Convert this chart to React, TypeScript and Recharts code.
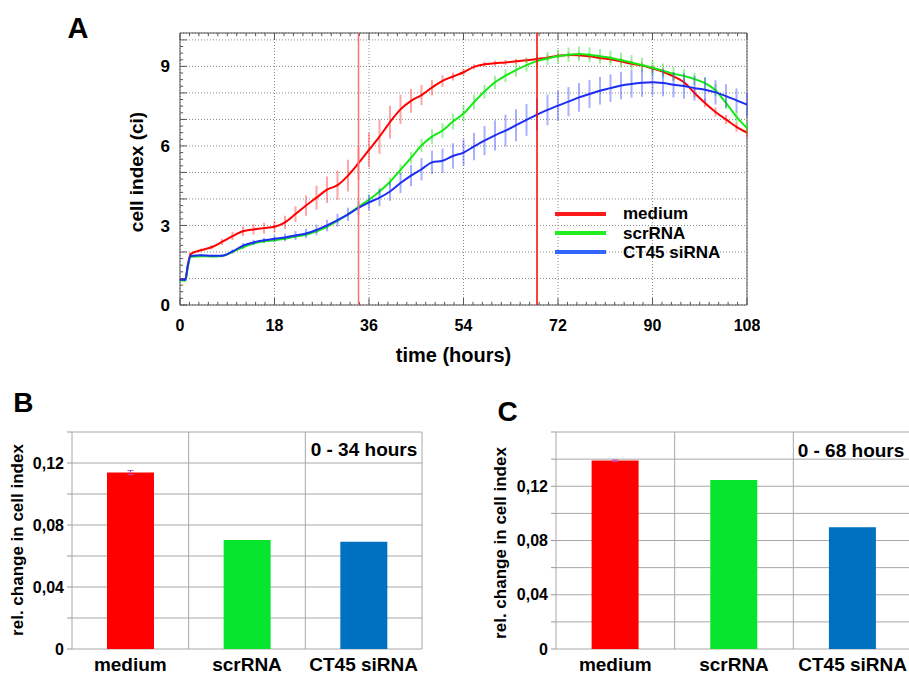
import React from 'react';
import {
  LineChart,
  Line,
  BarChart,
  Bar,
  Cell,
  XAxis,
  YAxis,
  CartesianGrid,
  ErrorBar,
  ReferenceLine,
  ReferenceArea,
} from 'recharts';

const FONT = '"Liberation Sans", Arial, Helvetica, sans-serif';

// ---- panel A: cell index over time ----
const hours = [
  0, 1, 1.5, 2, 4, 6, 8, 10, 12, 14, 16, 18, 20, 22, 24, 26, 28, 30, 32, 34,
  36, 38, 40, 42, 44, 46, 48, 50, 52, 54, 56, 58, 60, 62, 64, 66, 68, 70, 72,
  74, 76, 78, 80, 82, 84, 86, 88, 90, 92, 94, 96, 98, 100, 102, 104, 106, 108,
];
const medium = [
  0.95, 0.95, 1.5, 1.92, 2.07, 2.18, 2.38, 2.6, 2.78, 2.85, 2.9, 2.95, 3.12, 3.43, 3.75, 4.05, 4.35, 4.52, 4.88, 5.35,
  5.85, 6.35, 6.9, 7.38, 7.7, 7.92, 8.2, 8.45, 8.62, 8.78, 8.98, 9.08, 9.12, 9.15, 9.19, 9.23, 9.28, 9.33, 9.4,
  9.43, 9.42, 9.38, 9.32, 9.27, 9.19, 9.1, 9.03, 8.92, 8.8, 8.62, 8.4, 8.0, 7.62, 7.28, 7.0, 6.72, 6.5,
];
const mediumErr = [
  0.03, 0.03, 0.05, 0.05, 0.06, 0.08, 0.12, 0.15, 0.18, 0.2, 0.2, 0.22, 0.25, 0.3, 0.38, 0.45, 0.5, 0.55, 0.6, 0.62,
  0.65, 0.65, 0.62, 0.55, 0.45, 0.38, 0.3, 0.22, 0.15, 0.12, 0.1, 0.1, 0.1, 0.1, 0.1, 0.1, 0.1, 0.1, 0.1,
  0.1, 0.1, 0.1, 0.1, 0.12, 0.12, 0.12, 0.13, 0.13, 0.14, 0.15, 0.15, 0.16, 0.16, 0.17, 0.17, 0.18, 0.18,
];
const scrRNA = [
  0.92, 0.92, 1.45, 1.82, 1.84, 1.83, 1.85, 2.0, 2.18, 2.32, 2.4, 2.44, 2.5, 2.58, 2.65, 2.78, 2.95, 3.18, 3.42, 3.7,
  3.97, 4.28, 4.65, 5.1, 5.55, 6.02, 6.35, 6.58, 6.92, 7.22, 7.65, 8.05, 8.4, 8.65, 8.86, 9.05, 9.2, 9.3, 9.38,
  9.44, 9.47, 9.44, 9.38, 9.32, 9.24, 9.15, 9.05, 8.95, 8.84, 8.72, 8.64, 8.52, 8.37, 8.1, 7.62, 7.1, 6.68,
];
const scrRNAErr = [
  0.03, 0.03, 0.05, 0.05, 0.03, 0.03, 0.04, 0.05, 0.06, 0.06, 0.06, 0.06, 0.06, 0.06, 0.06, 0.06, 0.07, 0.08, 0.08, 0.1,
  0.12, 0.14, 0.16, 0.2, 0.22, 0.25, 0.28, 0.28, 0.3, 0.3, 0.28, 0.26, 0.25, 0.25, 0.25, 0.25, 0.25, 0.25, 0.26,
  0.27, 0.28, 0.28, 0.28, 0.28, 0.28, 0.28, 0.28, 0.28, 0.27, 0.26, 0.25, 0.24, 0.23, 0.22, 0.22, 0.2, 0.2,
];
const ct45 = [
  0.95, 0.95, 1.5, 1.85, 1.88, 1.86, 1.86, 2.02, 2.24, 2.36, 2.44, 2.5, 2.55, 2.62, 2.7, 2.83, 3.0, 3.2, 3.42, 3.66,
  3.87, 4.05, 4.28, 4.6, 4.88, 5.12, 5.38, 5.44, 5.62, 5.75, 5.98, 6.2, 6.4, 6.58, 6.78, 6.98, 7.18, 7.36, 7.52,
  7.67, 7.83, 7.96, 8.08, 8.18, 8.28, 8.34, 8.38, 8.4, 8.37, 8.31, 8.26, 8.18, 8.12, 8.02, 7.88, 7.72, 7.56,
];
const ct45Err = [
  0.04, 0.04, 0.05, 0.05, 0.04, 0.04, 0.05, 0.08, 0.1, 0.1, 0.1, 0.12, 0.15, 0.17, 0.18, 0.2, 0.22, 0.24, 0.25, 0.27,
  0.3, 0.32, 0.35, 0.38, 0.4, 0.42, 0.44, 0.46, 0.48, 0.5, 0.52, 0.55, 0.57, 0.6, 0.6, 0.6, 0.6, 0.58, 0.56,
  0.55, 0.54, 0.53, 0.52, 0.52, 0.52, 0.52, 0.52, 0.5, 0.5, 0.48, 0.48, 0.47, 0.46, 0.46, 0.45, 0.45, 0.45,
];
const timeTicks = [0, 18, 36, 54, 72, 90, 108];
const ciTicks = [0, 1, 2, 3, 4, 5, 6, 7, 8, 9, 10];
const windowEnds = [34, 68];
const Y_MAX = 10.26;

const seriesNames = ['medium', 'scrRNA', 'CT45 siRNA'];
const lineColors = ['#ff0000', '#12ea12', '#1e2ef0'];
const errColors = ['rgba(255,40,40,0.42)', 'rgba(30,220,30,0.42)', 'rgba(50,70,255,0.42)'];
const legendColors = ['#ff1a1a', '#22ee22', '#3366ff'];

const growthData = hours.map((h, i) => ({
  h,
  medium: medium[i],
  mediumErr: mediumErr[i],
  scrRNA: scrRNA[i],
  scrRNAErr: scrRNAErr[i],
  ct45: ct45[i],
  ct45Err: ct45Err[i],
}));

// axis decoration (ROOT-style inner ticks)
const minorX = Array.from({ length: 61 }, (_, i) => +(i * 1.8).toFixed(1));
const minorY = Array.from({ length: 41 }, (_, i) => i * 0.25);

// ---- panels B, C: relative change ----
const groups = ['medium', 'scrRNA', 'CT45 siRNA'];
const change34 = [0.1138, 0.0703, 0.0692];
const change34Err = [0.0013, null, null];
const change68 = [0.1389, 0.1247, 0.0898];
const change68Err = [0.0005, null, null];
const barColors = ['#ff0000', '#07e52e', '#0070c0'];
const ticks34 = [0, 0.02, 0.04, 0.06, 0.08, 0.1, 0.12, 0.14];
const ticks68 = [0, 0.02, 0.04, 0.06, 0.08, 0.1, 0.12, 0.14, 0.16];
const labelled = [0, 0.04, 0.08, 0.12];

const tickFont = { fill: '#000', fontSize: 16, fontWeight: 'bold', fontFamily: FONT };

const Txt = ({ x, y, size, rotate, children }: any) => (
  <div
    style={{
      position: 'absolute',
      left: x,
      top: y,
      transform: `translate(-50%, -50%)${rotate ? ' rotate(-90deg)' : ''}`,
      fontSize: size,
      fontWeight: 'bold',
      lineHeight: 1,
      whiteSpace: 'nowrap',
      fontFamily: FONT,
      color: '#000',
    }}
  >
    {children}
  </div>
);

const fmtComma = (v: number) => {
  const hit = labelled.find((l) => Math.abs(l - v) < 1e-6);
  if (hit === undefined) return '';
  return hit === 0 ? '0' : hit.toFixed(2).replace('.', ',');
};

const RelChange = ({ values, errs, ticks, width, marginLeft, marginRight }: any) => {
  const rows = groups.map((name, i) => ({ name, value: values[i], err: errs[i] }));
  const top = ticks[ticks.length - 1];
  return (
    <BarChart
      width={width}
      height={297}
      data={rows}
      margin={{ top: 52, right: marginRight, bottom: 0, left: marginLeft }}
      barCategoryGap="30%"
    >
      {/* grid lines sit on category borders, plus the frame */}
      <CartesianGrid
        stroke="#a8a8a8"
        verticalCoordinatesGenerator={({ offset }: any) =>
          groups.concat('').map((_, i) => offset.left + (offset.width * i) / groups.length)
        }
        horizontalCoordinatesGenerator={({ offset }: any) =>
          ticks.map((v: number) => offset.top + offset.height * (1 - v / top))
        }
      />
      <XAxis
        dataKey="name"
        tickLine={false}
        axisLine={false}
        tickSize={0}
        tickMargin={9}
        height={28}
        interval={0}
        tick={{ ...tickFont, fontSize: 19 }}
      />
      <YAxis
        domain={[0, top]}
        ticks={ticks}
        interval={0}
        tickFormatter={fmtComma}
        width={50}
        tickSize={5}
        tickMargin={3}
        tickLine={{ stroke: '#999' }}
        axisLine={false}
        tick={tickFont}
      />
      <Bar dataKey="value" isAnimationActive={false}>
        {rows.map((r, i) => (
          <Cell key={r.name} fill={barColors[i]} />
        ))}
        <ErrorBar dataKey="err" width={3} stroke="#b050c0" strokeWidth={1} isAnimationActive={false} />
      </Bar>
    </BarChart>
  );
};

export default function App() {
  const keys = ['medium', 'scrRNA', 'ct45'];
  return (
    <div
      style={{
        position: 'absolute',
        left: 0,
        top: 0,
        width: 909,
        height: 677,
        overflow: 'hidden',
        background: '#fff',
        fontFamily: FONT,
      }}
    >
      {/* Panel A */}
      <div style={{ position: 'absolute', left: 0, top: 0 }}>
        <LineChart width={760} height={370} data={growthData} margin={{ top: 33, right: 13, bottom: 35, left: 140 }}>
          <CartesianGrid stroke="#8c8c8c" strokeDasharray="1 2" />
          <XAxis
            dataKey="h"
            type="number"
            domain={[0, 108]}
            ticks={timeTicks}
            interval={0}
            tickLine={false}
            axisLine={false}
            tickSize={0}
            tickMargin={15}
            height={30}
            tick={tickFont}
          />
          <YAxis
            domain={[0, Y_MAX]}
            ticks={ciTicks}
            interval={0}
            allowDataOverflow
            tickFormatter={(v: number) => (v % 3 === 0 ? String(v) : '')}
            width={40}
            tickSize={0}
            tickMargin={10}
            tickLine={false}
            axisLine={false}
            tick={{ ...tickFont, fontSize: 17 }}
          />
          <ReferenceArea x1={0} x2={108} y1={0} y2={Y_MAX} fill="none" stroke="#555" strokeWidth={1} ifOverflow="visible" />
          {minorX.map((t, i) => (
            <ReferenceLine
              key={'xb' + i}
              segment={[{ x: t, y: 0 }, { x: t, y: i % 10 === 0 ? 0.26 : 0.12 }]}
              stroke="#555"
              ifOverflow="visible"
            />
          ))}
          {minorX.map((t, i) => (
            <ReferenceLine
              key={'xt' + i}
              segment={[{ x: t, y: Y_MAX }, { x: t, y: Y_MAX - (i % 10 === 0 ? 0.26 : 0.12) }]}
              stroke="#555"
              ifOverflow="visible"
            />
          ))}
          {minorY.map((v, i) => (
            <ReferenceLine
              key={'yl' + i}
              segment={[{ x: 0, y: v }, { x: i % 4 === 0 ? 1.3 : 0.6, y: v }]}
              stroke="#555"
              ifOverflow="visible"
            />
          ))}
          {keys.map((k, i) => (
            <Line
              key={k}
              type="monotone"
              dataKey={k}
              stroke={lineColors[i]}
              strokeWidth={2}
              dot={false}
              isAnimationActive={false}
            >
              <ErrorBar dataKey={k + 'Err'} width={0} stroke={errColors[i]} strokeWidth={2} direction="y" isAnimationActive={false} />
            </Line>
          ))}
          <ReferenceLine x={windowEnds[0]} stroke="#ff7373" strokeWidth={1.5} />
          <ReferenceLine x={windowEnds[1]} stroke="#ff0000" strokeWidth={1.5} />
        </LineChart>
      </div>

      {/* legend A */}
      {seriesNames.map((n, i) => (
        <div key={n} style={{ position: 'absolute', left: 555, top: 213.7 + i * 19.3 - 10, height: 20, display: 'flex', alignItems: 'center' }}>
          <div style={{ width: 51, height: 4, background: legendColors[i] }} />
          <div style={{ marginLeft: 17, fontSize: 17, fontWeight: 'bold', lineHeight: 1, color: '#000' }}>{n}</div>
        </div>
      ))}

      <Txt x={78} y={28} size={29}>A</Txt>
      <Txt x={136} y={172} size={19} rotate>cell index (ci)</Txt>
      <Txt x={453.5} y={355} size={20}>time (hours)</Txt>

      {/* Panel B */}
      <div style={{ position: 'absolute', left: 0, top: 380 }}>
        <RelChange values={change34} errs={change34Err} ticks={ticks34} width={440} marginLeft={22} marginRight={18} />
      </div>
      <Txt x={23.3} y={403.3} size={28}>B</Txt>
      <Txt x={17} y={540} size={17} rotate>rel. change in cell index</Txt>
      <Txt x={364} y={449} size={19}>0 - 34 hours</Txt>

      {/* Panel C */}
      <div style={{ position: 'absolute', left: 460, top: 380 }}>
        <RelChange values={change68} errs={change68Err} ticks={ticks68} width={455} marginLeft={46} marginRight={3} />
      </div>
      <Txt x={507.5} y={411.7} size={28}>C</Txt>
      <Txt x={499.5} y={542.5} size={17} rotate>rel. change in cell index</Txt>
      <Txt x={851} y={449.7} size={19}>0 - 68 hours</Txt>
    </div>
  );
}
